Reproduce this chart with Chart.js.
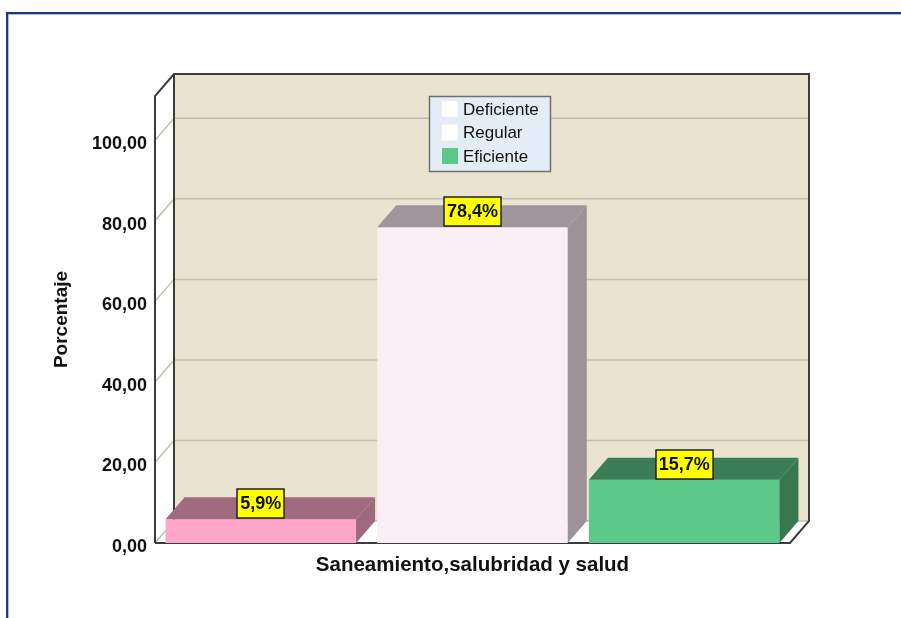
<!DOCTYPE html>
<html>
<head>
<meta charset="utf-8">
<script src="https://cdn.jsdelivr.net/npm/chart.js@4/dist/chart.umd.min.js"></script>
<style>
  html, body { margin: 0; padding: 0; background: #fff; }
  #wrap { position: relative; width: 901px; height: 618px; overflow: hidden; }
  #frame {
    position: absolute; left: 6px; top: 12px; width: 910px; height: 620px;
    border-top: 2px solid #1f3a78; border-left: 2px solid #1f3a78;
    box-shadow: inset 1px 1px 0 #a9bcd9;
  }
  canvas { position: absolute; left: 0; top: 0; }
</style>
</head>
<body>
<div id="wrap">
  <div id="frame"></div>
  <canvas id="chart" width="901" height="618"></canvas>
</div>
<script>
// datos
const categories = ["Saneamiento,salubridad y salud"];
const seriesNames = ["Deficiente", "Regular", "Eficiente"];
const seriesValues = [5.9, 78.4, 15.7];
const yTicks = [0, 20, 40, 60, 80, 100];
const yMax = 111;

// estilos
const frontColors = ["#ffa6c9", "#fbeef5", "#5cc98a"];
const topColors = ["#a06b7f", "#a0959b", "#3a7d57"];
const sideColors = ["#9c6a7c", "#9c9297", "#37784f"];
const legendSwatch = ["#ffffff", "#ffffff", "#5cc98a"];
const DX = 19, DY = -22;
const FONT = "'Liberation Sans', Arial, sans-serif";

const fmt = (v, d) => v.toFixed(d).replace(".", ",");

// paredes 3D, piso y rejilla
const wallsPlugin = {
  id: "walls",
  beforeDatasetsDraw(chart) {
    const { ctx, chartArea: a, scales: { y } } = chart;
    const L = a.left, R = a.right, T = a.top, B = a.bottom;
    ctx.save();
    // pared del fondo
    ctx.fillStyle = "#e9e3cf";
    ctx.fillRect(L + DX, T + DY, R - L, B - T);
    // piso
    ctx.fillStyle = "#ffffff";
    ctx.beginPath();
    ctx.moveTo(L, B); ctx.lineTo(R, B); ctx.lineTo(R + DX, B + DY); ctx.lineTo(L + DX, B + DY);
    ctx.closePath(); ctx.fill();
    // rejilla
    ctx.strokeStyle = "#c2beb3";
    ctx.lineWidth = 1.5;
    yTicks.forEach((t) => {
      const py = y.getPixelForValue(t);
      ctx.beginPath();
      ctx.moveTo(L, py); ctx.lineTo(L + DX, py + DY); ctx.lineTo(R + DX, py + DY);
      ctx.stroke();
    });
    // bordes oscuros
    ctx.strokeStyle = "#3c3c3c";
    ctx.lineWidth = 2;
    ctx.beginPath();
    ctx.moveTo(L, B); ctx.lineTo(L, T); ctx.lineTo(L + DX, T + DY);
    ctx.lineTo(R + DX, T + DY); ctx.lineTo(R + DX, B + DY); ctx.lineTo(R, B); ctx.lineTo(L, B);
    ctx.moveTo(L + DX, T + DY); ctx.lineTo(L + DX, B + DY);
    ctx.stroke();
    ctx.restore();
  },
  afterDatasetsDraw(chart) {
    const { ctx } = chart;
    ctx.save();
    chart.data.datasets.forEach((ds, i) => {
      const bar = chart.getDatasetMeta(i).data[0];
      const x1 = bar.x - bar.width / 2, x2 = bar.x + bar.width / 2;
      const yt = bar.y, yb = bar.base;
      // cara superior
      ctx.fillStyle = topColors[i];
      ctx.beginPath();
      ctx.moveTo(x1, yt); ctx.lineTo(x2, yt); ctx.lineTo(x2 + DX, yt + DY); ctx.lineTo(x1 + DX, yt + DY);
      ctx.closePath(); ctx.fill();
      // cara lateral
      ctx.fillStyle = sideColors[i];
      ctx.beginPath();
      ctx.moveTo(x2, yt); ctx.lineTo(x2 + DX, yt + DY); ctx.lineTo(x2 + DX, yb + DY); ctx.lineTo(x2, yb);
      ctx.closePath(); ctx.fill();
    });
    // etiquetas amarillas
    ctx.font = "bold 18px " + FONT;
    ctx.textAlign = "center";
    ctx.textBaseline = "middle";
    chart.data.datasets.forEach((ds, i) => {
      const bar = chart.getDatasetMeta(i).data[0];
      const txt = fmt(ds.data[0], 1) + "%";
      const w = ctx.measureText(txt).width + 6, h = 29;
      const bx = Math.round(bar.x - w / 2), by = Math.round(bar.y - 1 - h);
      ctx.fillStyle = "#ffff00";
      ctx.fillRect(bx, by, w, h);
      ctx.strokeStyle = "#222";
      ctx.lineWidth = 1.5;
      ctx.strokeRect(bx, by, w, h);
      ctx.fillStyle = "#111";
      ctx.fillText(txt, bar.x, by + h / 2 + 1);
    });
    ctx.restore();
  },
  afterDraw(chart) {
    // leyenda dentro del área
    const { ctx } = chart;
    const bx = 429.5, by = 96.5, bw = 121, bh = 75;
    ctx.save();
    ctx.fillStyle = "#e3edf8";
    ctx.fillRect(bx, by, bw, bh);
    ctx.strokeStyle = "#6f6f6f";
    ctx.lineWidth = 1.5;
    ctx.strokeRect(bx, by, bw, bh);
    ctx.font = "17px " + FONT;
    ctx.textBaseline = "middle";
    ctx.textAlign = "left";
    chart.data.datasets.forEach((ds, i) => {
      const cy = 109 + i * 23.5;
      ctx.fillStyle = legendSwatch[i];
      ctx.fillRect(442, cy - 8, 16, 16);
      ctx.fillStyle = "#111";
      ctx.fillText(ds.label, 463, cy + 1);
    });
    ctx.restore();
  }
};

new Chart(document.getElementById("chart"), {
  type: "bar",
  data: {
    labels: categories,
    datasets: seriesNames.map((name, i) => ({
      label: name,
      data: [seriesValues[i]],
      backgroundColor: frontColors[i],
      borderWidth: 0,
      categoryPercentage: 1.0,
      barPercentage: 0.9,
    })),
  },
  options: {
    responsive: false,
    animation: false,
    layout: { padding: { left: 30, right: 111, top: 96, bottom: 0 } },
    plugins: {
      legend: { display: false },
      tooltip: { enabled: false },
    },
    scales: {
      x: {
        grid: { display: false },
        border: { display: false },
        ticks: { display: false },
        title: {
          display: true,
          text: categories[0],
          color: "#111",
          font: { size: 20.5, weight: "bold", family: FONT },
          padding: { top: 0, bottom: 40 },
        },
        afterFit: (scale) => { scale.height = 75; },
      },
      y: {
        min: 0,
        max: yMax,
        grid: { display: false },
        border: { display: false },
        afterBuildTicks: (scale) => { scale.ticks = yTicks.map((v) => ({ value: v })); },
        ticks: {
          padding: 0,
          labelOffset: 4,
          color: "#111",
          font: { size: 18, weight: "bold", family: FONT },
          callback: (v) => fmt(v, 2),
        },
        title: {
          display: true,
          text: "Porcentaje",
          color: "#111",
          font: { size: 19, weight: "bold", family: FONT },
          padding: { top: 20, bottom: 0 },
        },
        afterFit: (scale) => { scale.width = 125; },
      },
    },
  },
  plugins: [wallsPlugin],
});
</script>
</body>
</html>
